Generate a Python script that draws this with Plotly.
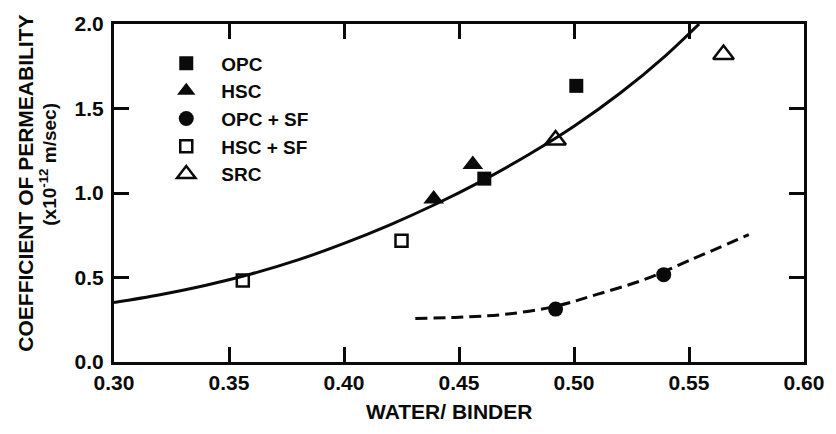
import plotly.graph_objects as go

# Data
opc_x = [0.461, 0.501]
opc_y = [1.085, 1.634]
hsc_x = [0.439, 0.456]
hsc_y = [0.964, 1.168]
opcsf_x = [0.492, 0.539]
opcsf_y = [0.313, 0.517]
hscsf_x = [0.356, 0.425]
hscsf_y = [0.482, 0.717]
src_x = [0.492, 0.565]
src_y = [1.314, 1.819]

fit_x = [0.300, 0.320, 0.340, 0.360, 0.380, 0.400, 0.420, 0.440, 0.460, 0.480, 0.500, 0.520, 0.540, 0.5544]
fit_y = [0.352, 0.398, 0.454, 0.522, 0.604, 0.702, 0.812, 0.935, 1.072, 1.225, 1.395, 1.590, 1.815, 2.000]

sf_fit_x = [0.431, 0.450, 0.470, 0.492, 0.510, 0.530, 0.550, 0.576]
sf_fit_y = [0.258, 0.265, 0.282, 0.330, 0.400, 0.485, 0.600, 0.754]

x_ticks = [0.30, 0.35, 0.40, 0.45, 0.50, 0.55, 0.60]
x_labels = ["0.30", "0.35", "0.40", "0.45", "0.50", "0.55", "0.60"]
y_ticks = [0.0, 0.5, 1.0, 1.5, 2.0]
y_labels = ["0.0", "0.5", "1.0", "1.5", "2.0"]

y_title_1 = "COEFFICIENT OF PERMEABILITY"
y_title_2 = "(x10<sup>-12</sup> m/sec)"
x_title = "WATER/ BINDER"

INK = "#0a0a0a"
FONT = "Liberation Sans, Arial, sans-serif"


def f(size):
    return dict(size=size, family=FONT, color=INK, weight="bold")


fig = go.Figure()

fig.add_trace(go.Scatter(x=fit_x, y=fit_y, mode="lines", showlegend=False,
                         line=dict(color=INK, width=3, shape="spline", smoothing=1.0), hoverinfo="skip"))
fig.add_trace(go.Scatter(x=sf_fit_x, y=sf_fit_y, mode="lines", showlegend=False,
                         line=dict(color=INK, width=3, shape="spline", dash="12px,6px"), hoverinfo="skip"))

fig.add_trace(go.Scatter(x=opc_x, y=opc_y, mode="markers", name="OPC",
                         marker=dict(symbol="square", size=14, color=INK)))
fig.add_trace(go.Scatter(x=hsc_x, y=hsc_y, mode="markers", name="HSC",
                         marker=dict(symbol="triangle-up", size=18, color=INK)))
fig.add_trace(go.Scatter(x=opcsf_x, y=opcsf_y, mode="markers", name="OPC + SF",
                         marker=dict(symbol="circle", size=15, color=INK)))
fig.add_trace(go.Scatter(x=hscsf_x, y=hscsf_y, mode="markers", name="HSC + SF",
                         marker=dict(symbol="square-open", size=12, color=INK, line=dict(width=2.5))))
fig.add_trace(go.Scatter(x=src_x, y=src_y, mode="markers", name="SRC",
                         marker=dict(symbol="triangle-up-open", size=18, color=INK, line=dict(width=2.5))))

fig.update_layout(
    width=836, height=434,
    margin=dict(l=114, r=23, t=19, b=72),
    paper_bgcolor="white", plot_bgcolor="white",
    font=f(20),
    legend=dict(x=0.054, y=0.94, xanchor="left", yanchor="top",
                bgcolor="rgba(0,0,0,0)", itemwidth=60,
                font=f(19), tracegroupgap=0),
    xaxis=dict(range=[0.30, 0.60], tickvals=x_ticks, ticktext=x_labels,
               showgrid=False, zeroline=False, showline=True, linecolor=INK, linewidth=3,
               mirror="ticks", ticks="inside", ticklen=15, tickwidth=2.5, tickcolor=INK,
               tickfont=f(21)),
    yaxis=dict(range=[0.0, 2.0], tickvals=y_ticks, ticktext=y_labels,
               showgrid=False, zeroline=False, showline=True, linecolor=INK, linewidth=3,
               mirror="ticks", ticks="inside", ticklen=15, tickwidth=2.5, tickcolor=INK,
               tickfont=f(21), ticklabelstandoff=3),
    annotations=[
        dict(text=y_title_1, xref="paper", yref="paper", x=-0.1288, y=0.528,
             textangle=-90, showarrow=False, xanchor="center", yanchor="middle",
             font=f(21)),
        dict(text=y_title_2, xref="paper", yref="paper", x=-0.0959, y=0.586,
             textangle=-90, showarrow=False, xanchor="center", yanchor="middle",
             font=f(19)),
        dict(text=x_title, xref="paper", yref="paper", x=0.486, y=-0.146,
             showarrow=False, xanchor="center", yanchor="middle",
             font=f(21)),
    ],
)

fig.write_html("out.html")
